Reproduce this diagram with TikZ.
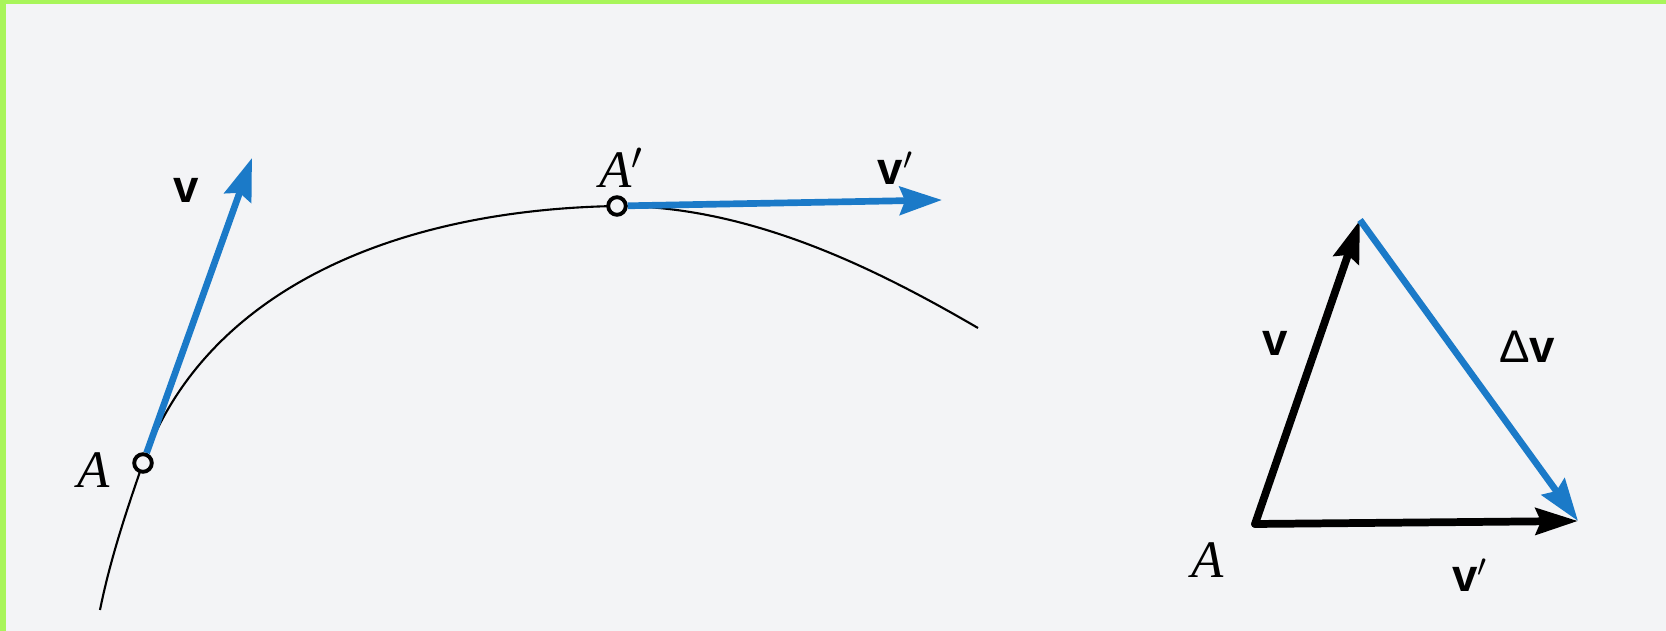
\documentclass[tikz,border=0pt]{standalone}
\usepackage{fontspec}
\newfontfamily\vfont{Liberation Sans}
\newfontfamily\pfont{Liberation Serif}
\usetikzlibrary{arrows.meta,positioning}
\definecolor{velblue}{RGB}{27,122,200}
\definecolor{paper}{RGB}{243,244,246}
\definecolor{edge}{RGB}{168,245,90}

\begin{document}
\begin{tikzpicture}[x=0.01cm, y=-0.01cm,
    curve/.style={line width=0.6pt},
    vel/.style={-{Stealth[length=12pt, width=8pt, inset=1.5pt]}, line width=1.9pt, velblue},
    vec/.style={-{Stealth[length=12pt, width=7.5pt, inset=1.5pt]}, line width=2.2pt, line cap=round},
    pt/.style={draw, circle, fill=paper, line width=1.1pt, inner sep=0pt, minimum size=5pt},
    lbl/.style={font=\pfont\itshape\fontsize{15}{18}\selectfont, inner sep=0pt},
    vlbl/.style={font=\vfont\bfseries\fontsize{13}{16}\selectfont, inner sep=0pt}
]
% paper and frame
\fill[edge] (0,0) rectangle (1666,631);
\fill[paper] (6,4) rectangle (1666,631);
\useasboundingbox (0,0) rectangle (1666,631);

% trajectory
\coordinate (start) at (100,610);
\coordinate (a) at (143,463);
\coordinate (ap) at (617,206);
\coordinate (finish) at (978,328);
\draw[curve] (start) .. controls (110,560) and (127,509) .. (a)
    .. controls (203,295) and (387,210) .. (ap)
    .. controls (750,206) and (875,268) .. (finish);

% velocities on the path
\coordinate (vtip) at (252,158);
\coordinate (vptip) at (942,200);
\node[pt] (pa) at (a) {};
\node[pt] (pap) at (ap) {};
\draw[vel] (pa) -- (vtip);
\draw[vel] (pap) -- (vptip);

\node[lbl] (la) at (94,470) {A};
\node[lbl] (lap) at (622,168) {A$'$};
\node[vlbl] (lv) at (186,190) {v};
\node[vlbl] (lvp) at (896,168) {v$'$};

% difference triangle
\coordinate (o) at (1255,524);
\coordinate (top) at (1360,220);
\coordinate (right) at (1578,521);
\draw[vec] (o) -- (top);
\draw[vec] (o) -- (right);
\draw[vel] (top) -- (right);

\node[vlbl] (tv) at (1275,343) {v};
\node[vlbl] (tdv) at (1527,347) {{\mdseries Δ}v};
\node[lbl] (ta) at (1208,560) {A};
\node[vlbl] (tvp) at (1470,575) {v$'$};
\end{tikzpicture}
\end{document}
